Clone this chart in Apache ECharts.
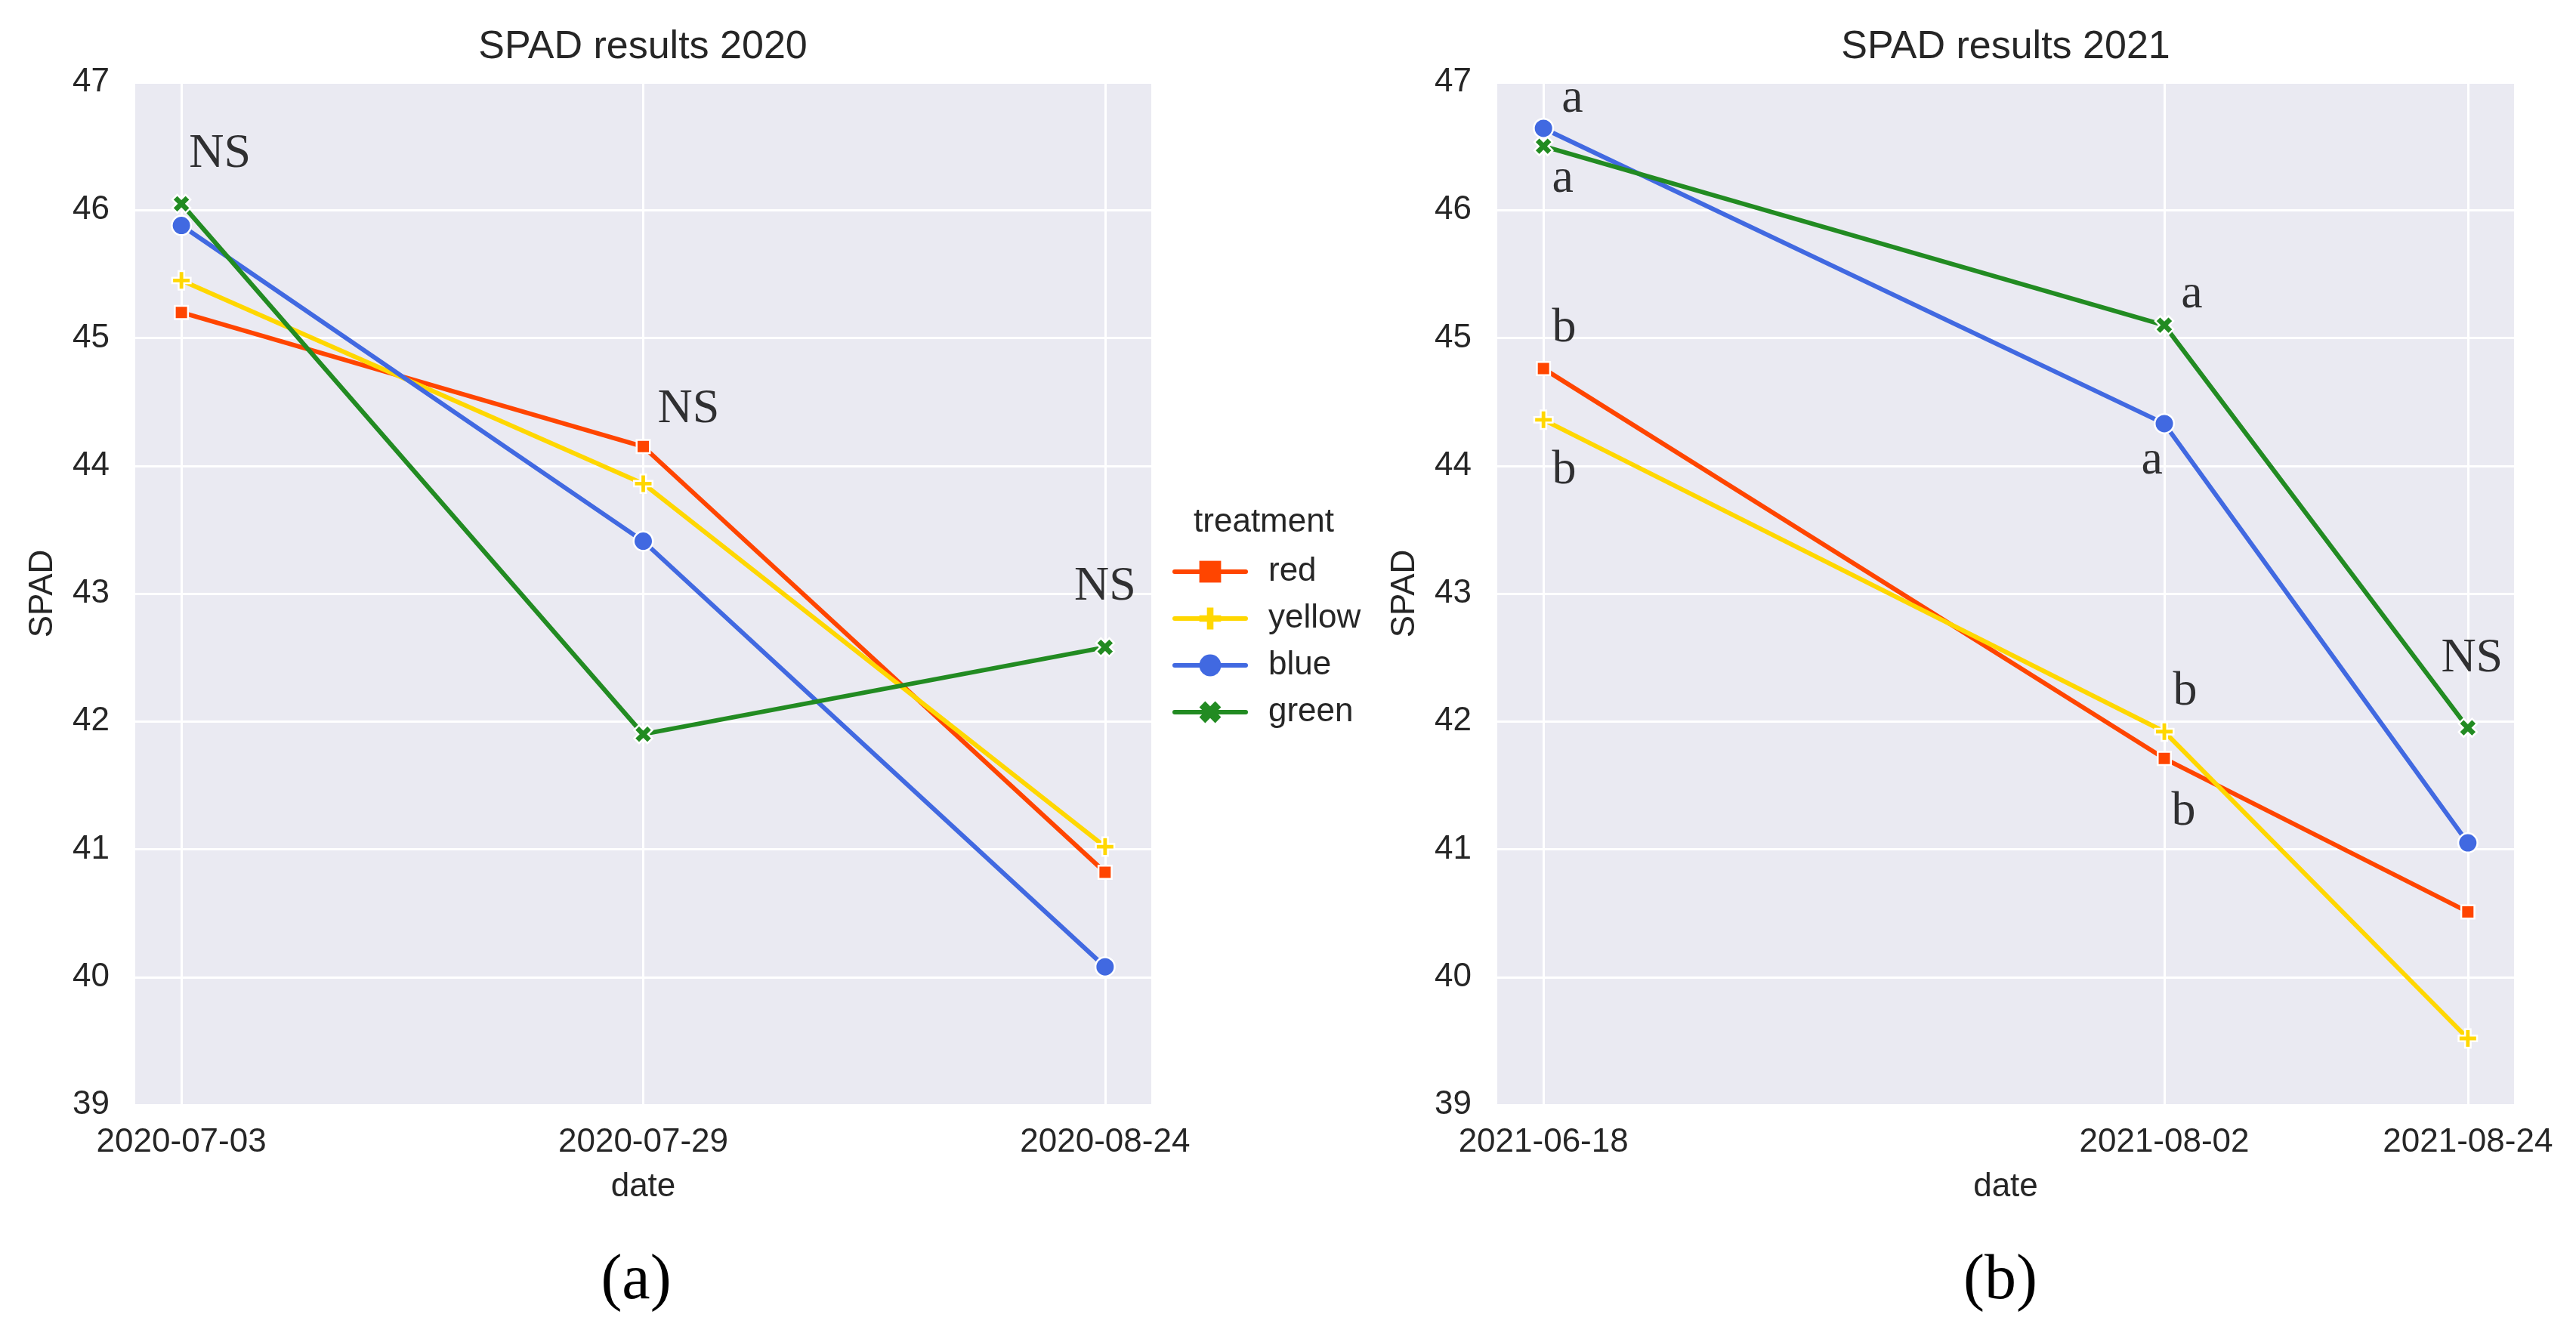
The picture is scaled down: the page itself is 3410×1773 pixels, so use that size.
<!DOCTYPE html>
<html>
<head>
<meta charset="utf-8">
<script src="https://cdn.jsdelivr.net/npm/echarts@6/dist/echarts.min.js"></script>
<style>html,body{margin:0;padding:0;background:#fff}#c{width:3410px;height:1773px}</style>
</head>
<body>
<div id="c"></div>
<script>
// ---------- data ----------
const treatments = ['red', 'yellow', 'blue', 'green'];
const dates2020 = ['2020-07-03', '2020-07-29', '2020-08-24'];
const dates2021 = ['2021-06-18', '2021-08-02', '2021-08-24'];
const red2020    = [45.20, 44.15, 40.82];
const yellow2020 = [45.45, 43.86, 41.02];
const blue2020   = [45.88, 43.41, 40.08];
const green2020  = [46.05, 41.90, 42.58];
const red2021    = [44.76, 41.71, 40.51];
const yellow2021 = [44.36, 41.92, 39.52];
const blue2021   = [46.64, 44.33, 41.05];
const green2021  = [46.50, 45.10, 41.95];
const yTicks = [39, 40, 41, 42, 43, 44, 45, 46, 47];
// annotations: [date, shift in days, SPAD value, text]
const ann2020 = [
  ['2020-07-03', 2.17, 46.44, 'NS'],
  ['2020-07-29', 2.55, 44.44, 'NS'],
  ['2020-08-24', 0.0, 43.05, 'NS']
];
const ann2021 = [
  ['2021-06-18', 2.1, 46.87, 'a'],
  ['2021-06-18', 1.4, 46.24, 'a'],
  ['2021-06-18', 1.5, 45.07, 'b'],
  ['2021-06-18', 1.5, 43.96, 'b'],
  ['2021-08-02', 2.0, 45.34, 'a'],
  ['2021-08-02', -0.9, 44.04, 'a'],
  ['2021-08-24', 0.3, 42.49, 'NS'],
  ['2021-08-02', 1.5, 42.23, 'b'],
  ['2021-08-02', 1.4, 41.29, 'b']
];

// ---------- helpers ----------
const DAY = 86400000;
function ts(s) { const p = s.split('-').map(Number); return new Date(p[0], p[1] - 1, p[2]).getTime(); }
const colors = { red: '#ff4500', yellow: '#ffd700', blue: '#4169e1', green: '#228b22' };
const PLUS = 'path://M0.35,0H0.65V0.35H1V0.65H0.65V1H0.35V0.65H0V0.35H0.35Z';
const XMARK = 'path://M0,0.27L0.27,0L0.5,0.23L0.73,0L1,0.27L0.77,0.5L1,0.73L0.73,1L0.5,0.77L0.27,1L0,0.73L0.23,0.5Z';
const symbols = { red: 'rect', yellow: PLUS, blue: 'circle', green: XMARK };
const symSizes = { red: 17.5, yellow: 24.5, blue: 25.5, green: 24 };
const SANS = 'Liberation Sans';
const SERIF = 'Liberation Serif';
const TXT = '#262626';
const LW = 6;

const values = {
  2020: { red: red2020, yellow: yellow2020, blue: blue2020, green: green2020 },
  2021: { red: red2021, yellow: yellow2021, blue: blue2021, green: green2021 }
};
const dates = { 2020: dates2020, 2021: dates2021 };
const anns = { 2020: ann2020, 2021: ann2021 };

function xAxisFor(idx, ds) {
  const t = ds.map(ts);
  const span = t[t.length - 1] - t[0];
  return {
    type: 'time', gridIndex: idx,
    min: t[0] - 0.05 * span, max: t[t.length - 1] + 0.05 * span,
    name: 'date', nameLocation: 'middle', nameGap: 87,
    nameTextStyle: { fontFamily: SANS, fontSize: 44, color: TXT },
    axisLine: { show: false },
    axisTick: { show: false, customValues: t },
    axisLabel: { customValues: t, formatter: '{yyyy}-{MM}-{dd}', fontFamily: SANS, fontSize: 44, color: TXT, margin: 28, hideOverlap: false, showMinLabel: true, showMaxLabel: true },
    splitLine: { show: true, lineStyle: { color: '#ffffff', width: 3 } }
  };
}
function yAxisFor(idx) {
  return {
    type: 'value', gridIndex: idx,
    min: yTicks[0], max: yTicks[yTicks.length - 1], interval: 1,
    name: 'SPAD', nameLocation: 'middle', nameGap: 100, nameRotate: 90,
    nameTextStyle: { fontFamily: SANS, fontSize: 44, color: TXT },
    axisLine: { show: false }, axisTick: { show: false },
    axisLabel: { fontFamily: SANS, fontSize: 44, color: TXT, margin: 34 },
    splitLine: { show: true, lineStyle: { color: '#ffffff', width: 3 } }
  };
}

const series = [];
[2020, 2021].forEach((yr, gi) => {
  treatments.forEach(tr => {
    series.push({
      name: tr, type: 'line', xAxisIndex: gi, yAxisIndex: gi,
      data: dates[yr].map((d, i) => [ts(d), values[yr][tr][i]]),
      symbol: symbols[tr], symbolSize: symSizes[tr], showAllSymbol: true,
      lineStyle: { color: colors[tr], width: LW, cap: 'round' },
      itemStyle: { color: colors[tr], borderColor: '#ffffff', borderWidth: 2.5 },
      emphasis: { disabled: true }, animation: false, z: 2
    });
  });
  series.push({
    type: 'scatter', xAxisIndex: gi, yAxisIndex: gi, silent: true,
    data: anns[yr].map(a => [ts(a[0]) + a[1] * DAY, a[2], a[3]]),
    symbol: 'circle', symbolSize: 1, itemStyle: { color: 'rgba(0,0,0,0)' },
    label: { show: true, position: 'inside', formatter: p => p.value[2], fontFamily: SERIF, fontSize: 64, color: '#000000' },
    animation: false, z: 5
  });
});

const chart = echarts.init(document.getElementById('c'), null, { renderer: 'canvas', devicePixelRatio: 1 });
chart.setOption({
  animation: false,
  backgroundColor: '#ffffff',
  grid: [
    { left: 179, top: 109, width: 1345, height: 1354, show: true, backgroundColor: '#eaeaf2', borderWidth: 0 },
    { left: 1982, top: 109, width: 1346, height: 1354, show: true, backgroundColor: '#eaeaf2', borderWidth: 0 }
  ],
  xAxis: [xAxisFor(0, dates2020), xAxisFor(1, dates2021)],
  yAxis: [yAxisFor(0), yAxisFor(1)],
  legend: {
    data: treatments, orient: 'vertical', left: 1547, top: 730,
    itemWidth: 94, itemHeight: 36, itemGap: 18,
    textStyle: { fontFamily: SANS, fontSize: 44, color: TXT, padding: [0, 0, 0, 25] },
    itemStyle: { borderWidth: 0 },
    lineStyle: { width: LW, cap: 'round' },
    selectedMode: false
  },
  graphic: [
    { type: 'text', x: 851, y: 63, style: { text: 'SPAD results 2020', font: '52px "Liberation Sans"', fill: TXT, textAlign: 'center', textVerticalAlign: 'middle' } },
    { type: 'text', x: 2655, y: 63, style: { text: 'SPAD results 2021', font: '52px "Liberation Sans"', fill: TXT, textAlign: 'center', textVerticalAlign: 'middle' } },
    { type: 'text', x: 1673, y: 692, style: { text: 'treatment', font: '44px "Liberation Sans"', fill: TXT, textAlign: 'center', textVerticalAlign: 'middle' } },
    { type: 'text', x: 842, y: 1697, style: { text: '(a)', font: '84px "Liberation Serif"', fill: '#000000', textAlign: 'center', textVerticalAlign: 'middle' } },
    { type: 'text', x: 2648, y: 1697, style: { text: '(b)', font: '84px "Liberation Serif"', fill: '#000000', textAlign: 'center', textVerticalAlign: 'middle' } }
  ],
  series: series
});
</script>
</body>
</html>
